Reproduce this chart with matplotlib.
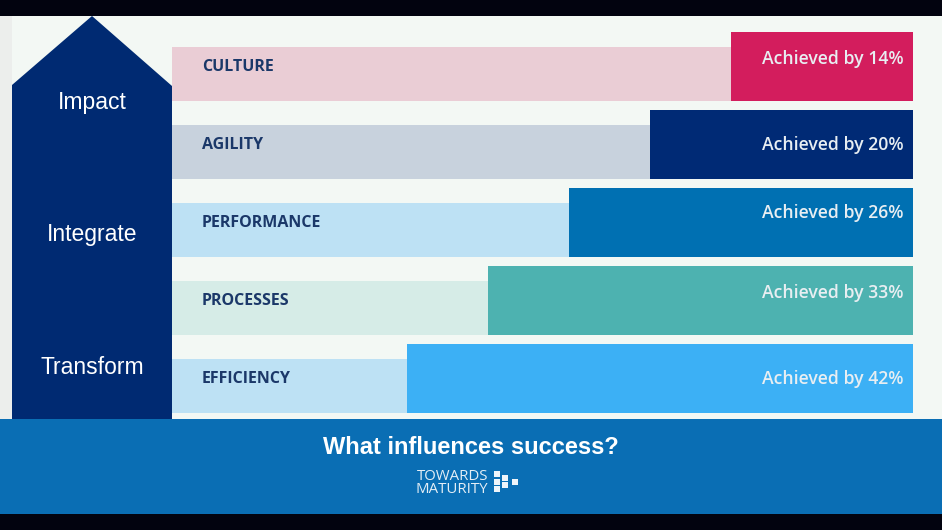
import matplotlib
matplotlib.use('Agg')
import matplotlib.pyplot as plt
from matplotlib.patches import Polygon, Rectangle

# chart content
categories = ['CULTURE', 'AGILITY', 'PERFORMANCE', 'PROCESSES', 'EFFICIENCY']
achieved = [14, 20, 26, 33, 42]
stages = ['Impact', 'Integrate', 'Transform']
title = 'What influences success?'

# colours
bar_colors = ['#d31d5d', '#002a75', '#0070b2', '#4db2b0', '#3cb0f5']
band_colors = ['#eacdd5', '#c8d2dd', '#bde1f4', '#d6ece7', '#bde1f4']
navy = '#002a72'
banner = '#0a6eb4'
slide_bg = '#f3f8f4'

W, H = 942, 530
fig = plt.figure(figsize=(W / 100, H / 100), dpi=100)
ax = fig.add_axes([0, 0, 1, 1])
ax.set_xlim(0, W)
ax.set_ylim(H, 0)
ax.axis('off')
fig.patch.set_facecolor('#02030f')

# slide background and bottom banner
ax.add_patch(Rectangle((0, 16), W, 498, color=slide_bg, lw=0, zorder=0))
ax.add_patch(Rectangle((0, 16), 12, 403, color='#eceeec', lw=0, zorder=0))
ax.add_patch(Rectangle((0, 419), W, 95, color=banner, lw=0, zorder=1))

# layout
band_left, bar_right = 172, 913
band_top0, band_gap, band_h = 47, 78, 54
step = 81
label_dy = [27, 35, 25, 27, 35]

n = len(categories)
band_tops = [band_top0 + i * band_gap for i in range(n)]

# light background bands
ax.barh([t + band_h / 2 for t in band_tops], [bar_right - band_left] * n,
        left=band_left, height=band_h, color=band_colors, zorder=2)

# achieved bars, stepping out further for each row
widths = [(2.25 + i) * step for i in range(n)]
ax.barh([t + band_h - (band_h + 15) / 2 for t in band_tops], widths,
        left=[bar_right - w for w in widths], height=band_h + 15,
        color=bar_colors, zorder=3)

for i, (cat, val) in enumerate(zip(categories, achieved)):
    top = band_tops[i]
    ax.text(202, top + 20, cat, ha='left', va='center', fontsize=11.5,
            fontweight='bold', color='#1b3869', family='Open Sans', zorder=4)
    ax.text(904, top - 15 + label_dy[i], f'Achieved by {val}%', ha='right',
            va='center', fontsize=12.7, fontweight='semibold', color='#e8eef2',
            family='Open Sans', zorder=4)

# the arrow on the left
ax.add_patch(Polygon([(12, 419), (12, 85), (92, 16), (172, 86), (172, 419)],
                     closed=True, color=navy, lw=0, zorder=3))
for s, y in zip(stages, [102, 235, 367]):
    ax.text(92, y, s, ha='center', va='center', fontsize=16.5, color='white',
            family='Liberation Sans', zorder=4)

# banner text and logo
ax.text(471, 447, title, ha='center', va='center', fontsize=17,
        fontweight='bold', color='white', family='Liberation Sans', zorder=4)
ax.text(488, 483, 'TOWARDS\nMATURITY', ha='right', va='center', fontsize=10.8,
        color='#e4eef6', family='Open Sans', linespacing=0.9, zorder=4)
for cx, cy in [(494, 471), (494, 478.5), (494, 486), (502, 474.5), (502, 482),
               (512, 478.5)]:
    ax.add_patch(Rectangle((cx, cy), 6, 6, facecolor='#eef4fa', lw=0, zorder=4))

fig.savefig('out.png', dpi=100, facecolor=fig.get_facecolor())
